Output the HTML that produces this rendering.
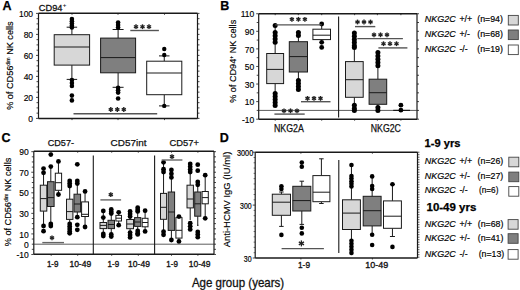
<!DOCTYPE html>
<html><head><meta charset="utf-8"><style>
html,body{margin:0;padding:0;background:#fff;}
body{width:520px;height:290px;overflow:hidden;font-family:"Liberation Sans",sans-serif;}
svg{display:block;}
</style></head><body>
<svg width="520" height="290" viewBox="0 0 520 290" font-family="Liberation Sans">
<rect width="520" height="290" fill="#fff"/>
<text x="2.5" y="9.6" font-size="12.5" text-anchor="start" font-weight="bold" font-style="normal" fill="#000" stroke="#000" stroke-width="0.25" >A</text>
<text x="38.8" y="10.6" font-size="9.9" text-anchor="start" font-weight="normal" font-style="normal" fill="#111" textLength="23.6" lengthAdjust="spacingAndGlyphs" stroke="#111" stroke-width="0.3" >CD94</text>
<text x="62.8" y="6.8" font-size="6.2" text-anchor="start" font-weight="normal" font-style="normal" fill="#111" stroke="#111" stroke-width="0.1" >+</text>
<line x1="36.0" y1="118.4" x2="38.5" y2="118.4" stroke="#1a1a1a" stroke-width="0.8"/>
<line x1="197.5" y1="118.4" x2="199.5" y2="118.4" stroke="#1a1a1a" stroke-width="0.8"/>
<line x1="36.5" y1="113.15" x2="38.5" y2="113.15" stroke="#1a1a1a" stroke-width="0.8"/>
<line x1="197.5" y1="113.15" x2="199.5" y2="113.15" stroke="#1a1a1a" stroke-width="0.8"/>
<line x1="36.5" y1="107.9" x2="38.5" y2="107.9" stroke="#1a1a1a" stroke-width="0.8"/>
<line x1="197.5" y1="107.9" x2="199.5" y2="107.9" stroke="#1a1a1a" stroke-width="0.8"/>
<line x1="36.5" y1="102.65" x2="38.5" y2="102.65" stroke="#1a1a1a" stroke-width="0.8"/>
<line x1="197.5" y1="102.65" x2="199.5" y2="102.65" stroke="#1a1a1a" stroke-width="0.8"/>
<line x1="36.0" y1="97.4" x2="38.5" y2="97.4" stroke="#1a1a1a" stroke-width="0.8"/>
<line x1="197.5" y1="97.4" x2="199.5" y2="97.4" stroke="#1a1a1a" stroke-width="0.8"/>
<line x1="36.5" y1="92.15" x2="38.5" y2="92.15" stroke="#1a1a1a" stroke-width="0.8"/>
<line x1="197.5" y1="92.15" x2="199.5" y2="92.15" stroke="#1a1a1a" stroke-width="0.8"/>
<line x1="36.5" y1="86.9" x2="38.5" y2="86.9" stroke="#1a1a1a" stroke-width="0.8"/>
<line x1="197.5" y1="86.9" x2="199.5" y2="86.9" stroke="#1a1a1a" stroke-width="0.8"/>
<line x1="36.5" y1="81.65" x2="38.5" y2="81.65" stroke="#1a1a1a" stroke-width="0.8"/>
<line x1="197.5" y1="81.65" x2="199.5" y2="81.65" stroke="#1a1a1a" stroke-width="0.8"/>
<line x1="36.0" y1="76.4" x2="38.5" y2="76.4" stroke="#1a1a1a" stroke-width="0.8"/>
<line x1="197.5" y1="76.4" x2="199.5" y2="76.4" stroke="#1a1a1a" stroke-width="0.8"/>
<line x1="36.5" y1="71.15" x2="38.5" y2="71.15" stroke="#1a1a1a" stroke-width="0.8"/>
<line x1="197.5" y1="71.15" x2="199.5" y2="71.15" stroke="#1a1a1a" stroke-width="0.8"/>
<line x1="36.5" y1="65.9" x2="38.5" y2="65.9" stroke="#1a1a1a" stroke-width="0.8"/>
<line x1="197.5" y1="65.9" x2="199.5" y2="65.9" stroke="#1a1a1a" stroke-width="0.8"/>
<line x1="36.5" y1="60.650000000000006" x2="38.5" y2="60.650000000000006" stroke="#1a1a1a" stroke-width="0.8"/>
<line x1="197.5" y1="60.650000000000006" x2="199.5" y2="60.650000000000006" stroke="#1a1a1a" stroke-width="0.8"/>
<line x1="36.0" y1="55.400000000000006" x2="38.5" y2="55.400000000000006" stroke="#1a1a1a" stroke-width="0.8"/>
<line x1="197.5" y1="55.400000000000006" x2="199.5" y2="55.400000000000006" stroke="#1a1a1a" stroke-width="0.8"/>
<line x1="36.5" y1="50.150000000000006" x2="38.5" y2="50.150000000000006" stroke="#1a1a1a" stroke-width="0.8"/>
<line x1="197.5" y1="50.150000000000006" x2="199.5" y2="50.150000000000006" stroke="#1a1a1a" stroke-width="0.8"/>
<line x1="36.5" y1="44.900000000000006" x2="38.5" y2="44.900000000000006" stroke="#1a1a1a" stroke-width="0.8"/>
<line x1="197.5" y1="44.900000000000006" x2="199.5" y2="44.900000000000006" stroke="#1a1a1a" stroke-width="0.8"/>
<line x1="36.5" y1="39.650000000000006" x2="38.5" y2="39.650000000000006" stroke="#1a1a1a" stroke-width="0.8"/>
<line x1="197.5" y1="39.650000000000006" x2="199.5" y2="39.650000000000006" stroke="#1a1a1a" stroke-width="0.8"/>
<line x1="36.0" y1="34.400000000000006" x2="38.5" y2="34.400000000000006" stroke="#1a1a1a" stroke-width="0.8"/>
<line x1="197.5" y1="34.400000000000006" x2="199.5" y2="34.400000000000006" stroke="#1a1a1a" stroke-width="0.8"/>
<line x1="36.5" y1="29.150000000000006" x2="38.5" y2="29.150000000000006" stroke="#1a1a1a" stroke-width="0.8"/>
<line x1="197.5" y1="29.150000000000006" x2="199.5" y2="29.150000000000006" stroke="#1a1a1a" stroke-width="0.8"/>
<line x1="36.5" y1="23.900000000000006" x2="38.5" y2="23.900000000000006" stroke="#1a1a1a" stroke-width="0.8"/>
<line x1="197.5" y1="23.900000000000006" x2="199.5" y2="23.900000000000006" stroke="#1a1a1a" stroke-width="0.8"/>
<line x1="36.5" y1="18.650000000000006" x2="38.5" y2="18.650000000000006" stroke="#1a1a1a" stroke-width="0.8"/>
<line x1="197.5" y1="18.650000000000006" x2="199.5" y2="18.650000000000006" stroke="#1a1a1a" stroke-width="0.8"/>
<line x1="36.0" y1="13.400000000000006" x2="38.5" y2="13.400000000000006" stroke="#1a1a1a" stroke-width="0.8"/>
<line x1="197.5" y1="13.400000000000006" x2="199.5" y2="13.400000000000006" stroke="#1a1a1a" stroke-width="0.8"/>
<text x="33.1" y="122.10000000000001" font-size="8.5" text-anchor="end" font-weight="normal" font-style="normal" fill="#000" stroke="#000" stroke-width="0.15" >0</text>
<text x="33.1" y="101.10000000000001" font-size="8.5" text-anchor="end" font-weight="normal" font-style="normal" fill="#000" stroke="#000" stroke-width="0.15" >20</text>
<text x="33.1" y="80.10000000000001" font-size="8.5" text-anchor="end" font-weight="normal" font-style="normal" fill="#000" stroke="#000" stroke-width="0.15" >40</text>
<text x="33.1" y="59.10000000000001" font-size="8.5" text-anchor="end" font-weight="normal" font-style="normal" fill="#000" stroke="#000" stroke-width="0.15" >60</text>
<text x="33.1" y="38.10000000000001" font-size="8.5" text-anchor="end" font-weight="normal" font-style="normal" fill="#000" stroke="#000" stroke-width="0.15" >80</text>
<text x="33.1" y="17.100000000000005" font-size="8.5" text-anchor="end" font-weight="normal" font-style="normal" fill="#000" stroke="#000" stroke-width="0.15" >100</text>
<line x1="72" y1="13.3" x2="72" y2="14.8" stroke="#1a1a1a" stroke-width="0.8"/>
<line x1="72" y1="118.6" x2="72" y2="120.1" stroke="#1a1a1a" stroke-width="0.8"/>
<line x1="118" y1="13.3" x2="118" y2="14.8" stroke="#1a1a1a" stroke-width="0.8"/>
<line x1="118" y1="118.6" x2="118" y2="120.1" stroke="#1a1a1a" stroke-width="0.8"/>
<line x1="164.5" y1="13.3" x2="164.5" y2="14.8" stroke="#1a1a1a" stroke-width="0.8"/>
<line x1="164.5" y1="118.6" x2="164.5" y2="120.1" stroke="#1a1a1a" stroke-width="0.8"/>
<line x1="38.5" y1="13.3" x2="197.5" y2="13.3" stroke="#1a1a1a" stroke-width="1.4"/>
<line x1="38.5" y1="13.3" x2="38.5" y2="118.6" stroke="#1a1a1a" stroke-width="1.2"/>
<line x1="197.5" y1="13.3" x2="197.5" y2="118.6" stroke="#1a1a1a" stroke-width="1.2"/>
<line x1="38.5" y1="118.6" x2="197.5" y2="118.6" stroke="#1a1a1a" stroke-width="1.5"/>
<text transform="translate(13.1,65.6) rotate(-90)" font-size="9.9" text-anchor="middle" fill="#000" stroke="#000" stroke-width="0.15" textLength="88.5" lengthAdjust="spacingAndGlyphs">% of CD56<tspan font-size="5.6" dy="-3.4">dim</tspan><tspan dy="3.4"> NK cells</tspan></text>
<line x1="71.9" y1="27.2" x2="71.9" y2="34.7" stroke="#1a1a1a" stroke-width="1"/>
<line x1="66.65" y1="27.2" x2="77.15" y2="27.2" stroke="#1a1a1a" stroke-width="1"/>
<line x1="71.9" y1="65.1" x2="71.9" y2="79.4" stroke="#1a1a1a" stroke-width="1"/>
<line x1="66.65" y1="79.4" x2="77.15" y2="79.4" stroke="#1a1a1a" stroke-width="1"/>
<rect x="54.2" y="34.7" width="35.39999999999999" height="30.39999999999999" fill="#d7d7d7" stroke="#1a1a1a" stroke-width="1"/>
<line x1="54.2" y1="47" x2="89.6" y2="47" stroke="#1a1a1a" stroke-width="1"/>
<circle cx="71.9" cy="19" r="2.3" fill="#000"/>
<circle cx="71.9" cy="21.3" r="2.3" fill="#000"/>
<circle cx="71.9" cy="23.6" r="2.3" fill="#000"/>
<circle cx="71.9" cy="25.8" r="2.3" fill="#000"/>
<circle cx="71.9" cy="27.5" r="2.3" fill="#000"/>
<circle cx="71.9" cy="80" r="2.3" fill="#000"/>
<circle cx="71.9" cy="83" r="2.3" fill="#000"/>
<circle cx="71.9" cy="86" r="2.3" fill="#000"/>
<circle cx="71.9" cy="95.6" r="2.3" fill="#000"/>
<circle cx="71.9" cy="100.4" r="2.3" fill="#000"/>
<line x1="118.1" y1="29.5" x2="118.1" y2="38.1" stroke="#1a1a1a" stroke-width="1"/>
<line x1="112.6" y1="29.5" x2="123.6" y2="29.5" stroke="#1a1a1a" stroke-width="1"/>
<line x1="118.1" y1="72.8" x2="118.1" y2="87.3" stroke="#1a1a1a" stroke-width="1"/>
<line x1="112.6" y1="87.3" x2="123.6" y2="87.3" stroke="#1a1a1a" stroke-width="1"/>
<rect x="100.6" y="38.1" width="35.0" height="34.699999999999996" fill="#7f7f7f" stroke="#1a1a1a" stroke-width="1"/>
<line x1="100.6" y1="57.6" x2="135.6" y2="57.6" stroke="#1a1a1a" stroke-width="1"/>
<circle cx="118.1" cy="22.6" r="2.3" fill="#000"/>
<circle cx="118.1" cy="25" r="2.3" fill="#000"/>
<circle cx="118.1" cy="27.6" r="2.3" fill="#000"/>
<circle cx="118.1" cy="87.8" r="2.3" fill="#000"/>
<circle cx="118.1" cy="90.2" r="2.3" fill="#000"/>
<circle cx="118.1" cy="92.6" r="2.3" fill="#000"/>
<circle cx="118.1" cy="98.5" r="2.3" fill="#000"/>
<line x1="164.25" y1="55.9" x2="164.25" y2="61.2" stroke="#1a1a1a" stroke-width="1"/>
<line x1="159.0" y1="55.9" x2="169.5" y2="55.9" stroke="#1a1a1a" stroke-width="1"/>
<line x1="164.25" y1="94.7" x2="164.25" y2="105.9" stroke="#1a1a1a" stroke-width="1"/>
<line x1="159.0" y1="105.9" x2="169.5" y2="105.9" stroke="#1a1a1a" stroke-width="1"/>
<rect x="146.7" y="61.2" width="35.10000000000002" height="33.5" fill="#ffffff" stroke="#1a1a1a" stroke-width="1"/>
<line x1="146.7" y1="73" x2="181.8" y2="73" stroke="#1a1a1a" stroke-width="1"/>
<circle cx="164.25" cy="49" r="2.2" fill="#000"/>
<circle cx="164.25" cy="55" r="2.2" fill="#000"/>
<circle cx="164.25" cy="105.9" r="2.2" fill="#000"/>
<line x1="130.3" y1="30.5" x2="158.9" y2="30.5" stroke="#555" stroke-width="1.4"/>
<line x1="136.00" y1="24.30" x2="136.00" y2="29.10" stroke="#222" stroke-width="1.4"/>
<line x1="133.92" y1="25.50" x2="138.08" y2="27.90" stroke="#222" stroke-width="1.4"/>
<line x1="138.08" y1="25.50" x2="133.92" y2="27.90" stroke="#222" stroke-width="1.4"/>
<line x1="142.50" y1="24.30" x2="142.50" y2="29.10" stroke="#222" stroke-width="1.4"/>
<line x1="140.42" y1="25.50" x2="144.58" y2="27.90" stroke="#222" stroke-width="1.4"/>
<line x1="144.58" y1="25.50" x2="140.42" y2="27.90" stroke="#222" stroke-width="1.4"/>
<line x1="149.00" y1="24.30" x2="149.00" y2="29.10" stroke="#222" stroke-width="1.4"/>
<line x1="146.92" y1="25.50" x2="151.08" y2="27.90" stroke="#222" stroke-width="1.4"/>
<line x1="151.08" y1="25.50" x2="146.92" y2="27.90" stroke="#222" stroke-width="1.4"/>
<line x1="73.5" y1="113.8" x2="157.2" y2="113.8" stroke="#555" stroke-width="1.4"/>
<line x1="110.80" y1="107.10" x2="110.80" y2="111.90" stroke="#222" stroke-width="1.4"/>
<line x1="108.72" y1="108.30" x2="112.88" y2="110.70" stroke="#222" stroke-width="1.4"/>
<line x1="112.88" y1="108.30" x2="108.72" y2="110.70" stroke="#222" stroke-width="1.4"/>
<line x1="117.30" y1="107.10" x2="117.30" y2="111.90" stroke="#222" stroke-width="1.4"/>
<line x1="115.22" y1="108.30" x2="119.38" y2="110.70" stroke="#222" stroke-width="1.4"/>
<line x1="119.38" y1="108.30" x2="115.22" y2="110.70" stroke="#222" stroke-width="1.4"/>
<line x1="123.80" y1="107.10" x2="123.80" y2="111.90" stroke="#222" stroke-width="1.4"/>
<line x1="121.72" y1="108.30" x2="125.88" y2="110.70" stroke="#222" stroke-width="1.4"/>
<line x1="125.88" y1="108.30" x2="121.72" y2="110.70" stroke="#222" stroke-width="1.4"/>
<text x="220.2" y="9.6" font-size="12.5" text-anchor="start" font-weight="bold" font-style="normal" fill="#000" stroke="#000" stroke-width="0.25" >B</text>
<line x1="256.2" y1="119.2" x2="258.7" y2="119.2" stroke="#1a1a1a" stroke-width="0.8"/>
<line x1="417.0" y1="119.2" x2="419.0" y2="119.2" stroke="#1a1a1a" stroke-width="0.8"/>
<line x1="256.7" y1="110.41" x2="258.7" y2="110.41" stroke="#1a1a1a" stroke-width="0.8"/>
<line x1="417.0" y1="110.41" x2="419.0" y2="110.41" stroke="#1a1a1a" stroke-width="0.8"/>
<line x1="256.2" y1="101.62" x2="258.7" y2="101.62" stroke="#1a1a1a" stroke-width="0.8"/>
<line x1="417.0" y1="101.62" x2="419.0" y2="101.62" stroke="#1a1a1a" stroke-width="0.8"/>
<line x1="256.7" y1="92.83" x2="258.7" y2="92.83" stroke="#1a1a1a" stroke-width="0.8"/>
<line x1="417.0" y1="92.83" x2="419.0" y2="92.83" stroke="#1a1a1a" stroke-width="0.8"/>
<line x1="256.2" y1="84.04" x2="258.7" y2="84.04" stroke="#1a1a1a" stroke-width="0.8"/>
<line x1="417.0" y1="84.04" x2="419.0" y2="84.04" stroke="#1a1a1a" stroke-width="0.8"/>
<line x1="256.7" y1="75.25" x2="258.7" y2="75.25" stroke="#1a1a1a" stroke-width="0.8"/>
<line x1="417.0" y1="75.25" x2="419.0" y2="75.25" stroke="#1a1a1a" stroke-width="0.8"/>
<line x1="256.2" y1="66.46000000000001" x2="258.7" y2="66.46000000000001" stroke="#1a1a1a" stroke-width="0.8"/>
<line x1="417.0" y1="66.46000000000001" x2="419.0" y2="66.46000000000001" stroke="#1a1a1a" stroke-width="0.8"/>
<line x1="256.7" y1="57.67" x2="258.7" y2="57.67" stroke="#1a1a1a" stroke-width="0.8"/>
<line x1="417.0" y1="57.67" x2="419.0" y2="57.67" stroke="#1a1a1a" stroke-width="0.8"/>
<line x1="256.2" y1="48.88000000000001" x2="258.7" y2="48.88000000000001" stroke="#1a1a1a" stroke-width="0.8"/>
<line x1="417.0" y1="48.88000000000001" x2="419.0" y2="48.88000000000001" stroke="#1a1a1a" stroke-width="0.8"/>
<line x1="256.7" y1="40.09" x2="258.7" y2="40.09" stroke="#1a1a1a" stroke-width="0.8"/>
<line x1="417.0" y1="40.09" x2="419.0" y2="40.09" stroke="#1a1a1a" stroke-width="0.8"/>
<line x1="256.2" y1="31.299999999999997" x2="258.7" y2="31.299999999999997" stroke="#1a1a1a" stroke-width="0.8"/>
<line x1="417.0" y1="31.299999999999997" x2="419.0" y2="31.299999999999997" stroke="#1a1a1a" stroke-width="0.8"/>
<line x1="256.7" y1="22.510000000000005" x2="258.7" y2="22.510000000000005" stroke="#1a1a1a" stroke-width="0.8"/>
<line x1="417.0" y1="22.510000000000005" x2="419.0" y2="22.510000000000005" stroke="#1a1a1a" stroke-width="0.8"/>
<line x1="256.2" y1="13.719999999999999" x2="258.7" y2="13.719999999999999" stroke="#1a1a1a" stroke-width="0.8"/>
<line x1="417.0" y1="13.719999999999999" x2="419.0" y2="13.719999999999999" stroke="#1a1a1a" stroke-width="0.8"/>
<text x="254.3" y="122.9" font-size="8.5" text-anchor="end" font-weight="normal" font-style="normal" fill="#000" stroke="#000" stroke-width="0.15" >-10</text>
<text x="254.3" y="105.32000000000001" font-size="8.5" text-anchor="end" font-weight="normal" font-style="normal" fill="#000" stroke="#000" stroke-width="0.15" >10</text>
<text x="254.3" y="87.74000000000001" font-size="8.5" text-anchor="end" font-weight="normal" font-style="normal" fill="#000" stroke="#000" stroke-width="0.15" >30</text>
<text x="254.3" y="70.16000000000001" font-size="8.5" text-anchor="end" font-weight="normal" font-style="normal" fill="#000" stroke="#000" stroke-width="0.15" >50</text>
<text x="254.3" y="52.58000000000001" font-size="8.5" text-anchor="end" font-weight="normal" font-style="normal" fill="#000" stroke="#000" stroke-width="0.15" >70</text>
<text x="254.3" y="35.0" font-size="8.5" text-anchor="end" font-weight="normal" font-style="normal" fill="#000" stroke="#000" stroke-width="0.15" >90</text>
<text x="254.3" y="17.419999999999998" font-size="8.5" text-anchor="end" font-weight="normal" font-style="normal" fill="#000" stroke="#000" stroke-width="0.15" >110</text>
<line x1="258.7" y1="13.7" x2="417.0" y2="13.7" stroke="#1a1a1a" stroke-width="1.4"/>
<line x1="258.7" y1="13.7" x2="258.7" y2="119.2" stroke="#1a1a1a" stroke-width="1.2"/>
<line x1="417.0" y1="13.7" x2="417.0" y2="119.2" stroke="#1a1a1a" stroke-width="1.2"/>
<line x1="258.7" y1="119.2" x2="417.0" y2="119.2" stroke="#1a1a1a" stroke-width="1.5"/>
<line x1="258.7" y1="110.41" x2="417.0" y2="110.41" stroke="#333" stroke-width="0.8"/>
<line x1="338.6" y1="16.5" x2="338.6" y2="117.5" stroke="#1a1a1a" stroke-width="1.1"/>
<line x1="275.2" y1="119.2" x2="275.2" y2="120.7" stroke="#1a1a1a" stroke-width="0.8"/>
<line x1="275.2" y1="13.7" x2="275.2" y2="15.2" stroke="#1a1a1a" stroke-width="0.8"/>
<line x1="298.3" y1="119.2" x2="298.3" y2="120.7" stroke="#1a1a1a" stroke-width="0.8"/>
<line x1="298.3" y1="13.7" x2="298.3" y2="15.2" stroke="#1a1a1a" stroke-width="0.8"/>
<line x1="321.7" y1="119.2" x2="321.7" y2="120.7" stroke="#1a1a1a" stroke-width="0.8"/>
<line x1="321.7" y1="13.7" x2="321.7" y2="15.2" stroke="#1a1a1a" stroke-width="0.8"/>
<line x1="354.6" y1="119.2" x2="354.6" y2="120.7" stroke="#1a1a1a" stroke-width="0.8"/>
<line x1="354.6" y1="13.7" x2="354.6" y2="15.2" stroke="#1a1a1a" stroke-width="0.8"/>
<line x1="377.4" y1="119.2" x2="377.4" y2="120.7" stroke="#1a1a1a" stroke-width="0.8"/>
<line x1="377.4" y1="13.7" x2="377.4" y2="15.2" stroke="#1a1a1a" stroke-width="0.8"/>
<line x1="400.9" y1="119.2" x2="400.9" y2="120.7" stroke="#1a1a1a" stroke-width="0.8"/>
<line x1="400.9" y1="13.7" x2="400.9" y2="15.2" stroke="#1a1a1a" stroke-width="0.8"/>
<text transform="translate(236.2,61.3) rotate(-90)" font-size="9.9" text-anchor="middle" fill="#000" stroke="#000" stroke-width="0.15" textLength="83" lengthAdjust="spacingAndGlyphs">% of CD94<tspan font-size="5.6" dy="-3.4">+</tspan><tspan dy="3.4"> NK cells</tspan></text>
<text x="273.9" y="131.7" font-size="10.2" text-anchor="start" font-weight="normal" font-style="normal" fill="#111" textLength="29.9" lengthAdjust="spacingAndGlyphs" stroke="#111" stroke-width="0.25" >NKG2A</text>
<text x="370.8" y="131.7" font-size="10.2" text-anchor="start" font-weight="normal" font-style="normal" fill="#111" textLength="30.1" lengthAdjust="spacingAndGlyphs" stroke="#111" stroke-width="0.25" >NKG2C</text>
<line x1="275.15" y1="25.5" x2="275.15" y2="53.5" stroke="#1a1a1a" stroke-width="1"/>
<line x1="275.15" y1="83.6" x2="275.15" y2="93.5" stroke="#1a1a1a" stroke-width="1"/>
<rect x="266.7" y="53.5" width="16.900000000000034" height="30.099999999999994" fill="#d7d7d7" stroke="#1a1a1a" stroke-width="1"/>
<line x1="266.7" y1="69.4" x2="283.6" y2="69.4" stroke="#1a1a1a" stroke-width="1"/>
<circle cx="275.15" cy="25.5" r="2.5" fill="#000"/>
<circle cx="275.15" cy="32.6" r="2.5" fill="#000"/>
<circle cx="275.15" cy="35.8" r="2.5" fill="#000"/>
<circle cx="275.15" cy="39" r="2.5" fill="#000"/>
<circle cx="275.15" cy="42.2" r="2.5" fill="#000"/>
<circle cx="275.15" cy="93.6" r="2.5" fill="#000"/>
<circle cx="275.15" cy="96.6" r="2.5" fill="#000"/>
<circle cx="275.15" cy="99.6" r="2.5" fill="#000"/>
<circle cx="275.15" cy="102.6" r="2.5" fill="#000"/>
<circle cx="275.15" cy="105.6" r="2.5" fill="#000"/>
<line x1="298.4" y1="32.6" x2="298.4" y2="41.7" stroke="#1a1a1a" stroke-width="1"/>
<line x1="298.4" y1="72" x2="298.4" y2="80.6" stroke="#1a1a1a" stroke-width="1"/>
<rect x="289.3" y="41.7" width="18.19999999999999" height="30.299999999999997" fill="#7f7f7f" stroke="#1a1a1a" stroke-width="1"/>
<line x1="289.3" y1="56.6" x2="307.5" y2="56.6" stroke="#1a1a1a" stroke-width="1"/>
<circle cx="298.4" cy="32.6" r="2.5" fill="#000"/>
<circle cx="298.4" cy="35.4" r="2.5" fill="#000"/>
<circle cx="298.4" cy="80.6" r="2.5" fill="#000"/>
<circle cx="298.4" cy="83.6" r="2.5" fill="#000"/>
<circle cx="298.4" cy="86.6" r="2.5" fill="#000"/>
<circle cx="298.4" cy="89.6" r="2.5" fill="#000"/>
<line x1="321.7" y1="24" x2="321.7" y2="29.2" stroke="#1a1a1a" stroke-width="1"/>
<line x1="321.7" y1="39.6" x2="321.7" y2="42" stroke="#1a1a1a" stroke-width="1"/>
<rect x="312.9" y="29.2" width="17.600000000000023" height="10.400000000000002" fill="#ffffff" stroke="#1a1a1a" stroke-width="1"/>
<line x1="312.9" y1="35.2" x2="330.5" y2="35.2" stroke="#1a1a1a" stroke-width="1"/>
<circle cx="321.7" cy="24" r="2.4" fill="#000"/>
<circle cx="321.7" cy="42.3" r="2.4" fill="#000"/>
<circle cx="321.7" cy="47.4" r="2.4" fill="#000"/>
<line x1="354.35" y1="33" x2="354.35" y2="61.6" stroke="#1a1a1a" stroke-width="1"/>
<line x1="354.35" y1="97.3" x2="354.35" y2="105" stroke="#1a1a1a" stroke-width="1"/>
<rect x="345.5" y="61.6" width="17.69999999999999" height="35.699999999999996" fill="#d7d7d7" stroke="#1a1a1a" stroke-width="1"/>
<line x1="345.5" y1="79.7" x2="363.2" y2="79.7" stroke="#1a1a1a" stroke-width="1"/>
<circle cx="354.35" cy="33" r="2.5" fill="#000"/>
<circle cx="354.35" cy="36.2" r="2.5" fill="#000"/>
<circle cx="354.35" cy="39.4" r="2.5" fill="#000"/>
<circle cx="354.35" cy="42.6" r="2.5" fill="#000"/>
<circle cx="354.35" cy="45.8" r="2.5" fill="#000"/>
<circle cx="354.35" cy="47.6" r="2.5" fill="#000"/>
<circle cx="354.35" cy="105.2" r="2.5" fill="#000"/>
<circle cx="354.35" cy="108.4" r="2.5" fill="#000"/>
<circle cx="354.35" cy="110.6" r="2.5" fill="#000"/>
<line x1="377.9" y1="52.6" x2="377.9" y2="79.2" stroke="#1a1a1a" stroke-width="1"/>
<line x1="377.9" y1="104.3" x2="377.9" y2="107.5" stroke="#1a1a1a" stroke-width="1"/>
<rect x="369.1" y="79.2" width="17.599999999999966" height="25.099999999999994" fill="#7f7f7f" stroke="#1a1a1a" stroke-width="1"/>
<line x1="369.1" y1="92.7" x2="386.7" y2="92.7" stroke="#1a1a1a" stroke-width="1"/>
<circle cx="377.9" cy="52.6" r="2.5" fill="#000"/>
<circle cx="377.9" cy="55.9" r="2.5" fill="#000"/>
<circle cx="377.9" cy="59.2" r="2.5" fill="#000"/>
<circle cx="377.9" cy="62.5" r="2.5" fill="#000"/>
<circle cx="377.9" cy="65.8" r="2.5" fill="#000"/>
<circle cx="377.9" cy="107.6" r="2.5" fill="#000"/>
<circle cx="377.9" cy="110.4" r="2.5" fill="#000"/>
<line x1="393.2" y1="110.41" x2="410" y2="110.41" stroke="#1a1a1a" stroke-width="1.2"/>
<circle cx="400.9" cy="105.2" r="2.4" fill="#000"/>
<circle cx="400.9" cy="110.2" r="2.4" fill="#000"/>
<line x1="275.3" y1="24.9" x2="321.6" y2="24.9" stroke="#555" stroke-width="1.4"/>
<line x1="291.90" y1="16.90" x2="291.90" y2="21.70" stroke="#222" stroke-width="1.4"/>
<line x1="289.82" y1="18.10" x2="293.98" y2="20.50" stroke="#222" stroke-width="1.4"/>
<line x1="293.98" y1="18.10" x2="289.82" y2="20.50" stroke="#222" stroke-width="1.4"/>
<line x1="298.40" y1="16.90" x2="298.40" y2="21.70" stroke="#222" stroke-width="1.4"/>
<line x1="296.32" y1="18.10" x2="300.48" y2="20.50" stroke="#222" stroke-width="1.4"/>
<line x1="300.48" y1="18.10" x2="296.32" y2="20.50" stroke="#222" stroke-width="1.4"/>
<line x1="304.90" y1="16.90" x2="304.90" y2="21.70" stroke="#222" stroke-width="1.4"/>
<line x1="302.82" y1="18.10" x2="306.98" y2="20.50" stroke="#222" stroke-width="1.4"/>
<line x1="306.98" y1="18.10" x2="302.82" y2="20.50" stroke="#222" stroke-width="1.4"/>
<line x1="274.4" y1="114.1" x2="304.7" y2="114.1" stroke="#555" stroke-width="1.4"/>
<line x1="284.00" y1="108.40" x2="284.00" y2="113.20" stroke="#222" stroke-width="1.4"/>
<line x1="281.92" y1="109.60" x2="286.08" y2="112.00" stroke="#222" stroke-width="1.4"/>
<line x1="286.08" y1="109.60" x2="281.92" y2="112.00" stroke="#222" stroke-width="1.4"/>
<line x1="290.50" y1="108.40" x2="290.50" y2="113.20" stroke="#222" stroke-width="1.4"/>
<line x1="288.42" y1="109.60" x2="292.58" y2="112.00" stroke="#222" stroke-width="1.4"/>
<line x1="292.58" y1="109.60" x2="288.42" y2="112.00" stroke="#222" stroke-width="1.4"/>
<line x1="297.00" y1="108.40" x2="297.00" y2="113.20" stroke="#222" stroke-width="1.4"/>
<line x1="294.92" y1="109.60" x2="299.08" y2="112.00" stroke="#222" stroke-width="1.4"/>
<line x1="299.08" y1="109.60" x2="294.92" y2="112.00" stroke="#222" stroke-width="1.4"/>
<line x1="301" y1="101.7" x2="330.5" y2="101.7" stroke="#555" stroke-width="1.4"/>
<line x1="307.50" y1="96.00" x2="307.50" y2="100.80" stroke="#222" stroke-width="1.4"/>
<line x1="305.42" y1="97.20" x2="309.58" y2="99.60" stroke="#222" stroke-width="1.4"/>
<line x1="309.58" y1="97.20" x2="305.42" y2="99.60" stroke="#222" stroke-width="1.4"/>
<line x1="314.00" y1="96.00" x2="314.00" y2="100.80" stroke="#222" stroke-width="1.4"/>
<line x1="311.92" y1="97.20" x2="316.08" y2="99.60" stroke="#222" stroke-width="1.4"/>
<line x1="316.08" y1="97.20" x2="311.92" y2="99.60" stroke="#222" stroke-width="1.4"/>
<line x1="320.50" y1="96.00" x2="320.50" y2="100.80" stroke="#222" stroke-width="1.4"/>
<line x1="318.42" y1="97.20" x2="322.58" y2="99.60" stroke="#222" stroke-width="1.4"/>
<line x1="322.58" y1="97.20" x2="318.42" y2="99.60" stroke="#222" stroke-width="1.4"/>
<line x1="355" y1="26.6" x2="375.3" y2="26.6" stroke="#555" stroke-width="1.4"/>
<line x1="357.50" y1="19.60" x2="357.50" y2="24.40" stroke="#222" stroke-width="1.4"/>
<line x1="355.42" y1="20.80" x2="359.58" y2="23.20" stroke="#222" stroke-width="1.4"/>
<line x1="359.58" y1="20.80" x2="355.42" y2="23.20" stroke="#222" stroke-width="1.4"/>
<line x1="364.00" y1="19.60" x2="364.00" y2="24.40" stroke="#222" stroke-width="1.4"/>
<line x1="361.92" y1="20.80" x2="366.08" y2="23.20" stroke="#222" stroke-width="1.4"/>
<line x1="366.08" y1="20.80" x2="361.92" y2="23.20" stroke="#222" stroke-width="1.4"/>
<line x1="370.50" y1="19.60" x2="370.50" y2="24.40" stroke="#222" stroke-width="1.4"/>
<line x1="368.42" y1="20.80" x2="372.58" y2="23.20" stroke="#222" stroke-width="1.4"/>
<line x1="372.58" y1="20.80" x2="368.42" y2="23.20" stroke="#222" stroke-width="1.4"/>
<line x1="357.3" y1="38.6" x2="402.9" y2="38.6" stroke="#555" stroke-width="1.4"/>
<line x1="374.00" y1="32.40" x2="374.00" y2="37.20" stroke="#222" stroke-width="1.4"/>
<line x1="371.92" y1="33.60" x2="376.08" y2="36.00" stroke="#222" stroke-width="1.4"/>
<line x1="376.08" y1="33.60" x2="371.92" y2="36.00" stroke="#222" stroke-width="1.4"/>
<line x1="380.50" y1="32.40" x2="380.50" y2="37.20" stroke="#222" stroke-width="1.4"/>
<line x1="378.42" y1="33.60" x2="382.58" y2="36.00" stroke="#222" stroke-width="1.4"/>
<line x1="382.58" y1="33.60" x2="378.42" y2="36.00" stroke="#222" stroke-width="1.4"/>
<line x1="387.00" y1="32.40" x2="387.00" y2="37.20" stroke="#222" stroke-width="1.4"/>
<line x1="384.92" y1="33.60" x2="389.08" y2="36.00" stroke="#222" stroke-width="1.4"/>
<line x1="389.08" y1="33.60" x2="384.92" y2="36.00" stroke="#222" stroke-width="1.4"/>
<line x1="378.4" y1="47.9" x2="407.4" y2="47.9" stroke="#555" stroke-width="1.4"/>
<line x1="383.50" y1="41.30" x2="383.50" y2="46.10" stroke="#222" stroke-width="1.4"/>
<line x1="381.42" y1="42.50" x2="385.58" y2="44.90" stroke="#222" stroke-width="1.4"/>
<line x1="385.58" y1="42.50" x2="381.42" y2="44.90" stroke="#222" stroke-width="1.4"/>
<line x1="390.00" y1="41.30" x2="390.00" y2="46.10" stroke="#222" stroke-width="1.4"/>
<line x1="387.92" y1="42.50" x2="392.08" y2="44.90" stroke="#222" stroke-width="1.4"/>
<line x1="392.08" y1="42.50" x2="387.92" y2="44.90" stroke="#222" stroke-width="1.4"/>
<line x1="396.50" y1="41.30" x2="396.50" y2="46.10" stroke="#222" stroke-width="1.4"/>
<line x1="394.42" y1="42.50" x2="398.58" y2="44.90" stroke="#222" stroke-width="1.4"/>
<line x1="398.58" y1="42.50" x2="394.42" y2="44.90" stroke="#222" stroke-width="1.4"/>
<rect x="508.3" y="15.400000000000002" width="10" height="9.6" fill="#d7d7d7" stroke="#444" stroke-width="0.9"/>
<text x="424.8" y="22.0" font-size="8.8" text-anchor="start" font-weight="normal" font-style="italic" fill="#000" textLength="30.8" lengthAdjust="spacingAndGlyphs" stroke="#000" stroke-width="0.18" >NKG2C</text>
<text x="459.4" y="22.0" font-size="8.8" text-anchor="start" font-weight="normal" font-style="normal" fill="#000" stroke="#000" stroke-width="0.18" >+/+</text>
<text x="477.3" y="22.0" font-size="8.8" text-anchor="start" font-weight="normal" font-style="normal" fill="#000" textLength="25.6" lengthAdjust="spacingAndGlyphs" stroke="#000" stroke-width="0.18" >(n=94)</text>
<rect x="508.3" y="30.000000000000004" width="10" height="9.6" fill="#7f7f7f" stroke="#444" stroke-width="0.9"/>
<text x="424.8" y="36.6" font-size="8.8" text-anchor="start" font-weight="normal" font-style="italic" fill="#000" textLength="30.8" lengthAdjust="spacingAndGlyphs" stroke="#000" stroke-width="0.18" >NKG2C</text>
<text x="459.4" y="36.6" font-size="8.8" text-anchor="start" font-weight="normal" font-style="normal" fill="#000" stroke="#000" stroke-width="0.18" >+/-</text>
<text x="477.3" y="36.6" font-size="8.8" text-anchor="start" font-weight="normal" font-style="normal" fill="#000" textLength="25.6" lengthAdjust="spacingAndGlyphs" stroke="#000" stroke-width="0.18" >(n=68)</text>
<rect x="508.3" y="45.0" width="10" height="9.6" fill="#ffffff" stroke="#444" stroke-width="0.9"/>
<text x="424.8" y="51.6" font-size="8.8" text-anchor="start" font-weight="normal" font-style="italic" fill="#000" textLength="30.8" lengthAdjust="spacingAndGlyphs" stroke="#000" stroke-width="0.18" >NKG2C</text>
<text x="459.4" y="51.6" font-size="8.8" text-anchor="start" font-weight="normal" font-style="normal" fill="#000" stroke="#000" stroke-width="0.18" >-/-</text>
<text x="477.3" y="51.6" font-size="8.8" text-anchor="start" font-weight="normal" font-style="normal" fill="#000" textLength="25.6" lengthAdjust="spacingAndGlyphs" stroke="#000" stroke-width="0.18" >(n=19)</text>
<text x="1.5" y="141.8" font-size="12.5" text-anchor="start" font-weight="bold" font-style="normal" fill="#000" stroke="#000" stroke-width="0.25" >C</text>
<text x="47.7" y="145.8" font-size="9.8" text-anchor="start" font-weight="normal" font-style="normal" fill="#111" textLength="26.3" lengthAdjust="spacingAndGlyphs" stroke="#111" stroke-width="0.25" >CD57-</text>
<text x="110.6" y="145.8" font-size="9.8" text-anchor="start" font-weight="normal" font-style="normal" fill="#111" textLength="35.9" lengthAdjust="spacingAndGlyphs" stroke="#111" stroke-width="0.25" >CD57int</text>
<text x="169.6" y="145.8" font-size="9.8" text-anchor="start" font-weight="normal" font-style="normal" fill="#111" textLength="29.4" lengthAdjust="spacingAndGlyphs" stroke="#111" stroke-width="0.25" >CD57+</text>
<line x1="31.299999999999997" y1="254.48" x2="33.8" y2="254.48" stroke="#1a1a1a" stroke-width="0.8"/>
<line x1="214.0" y1="254.48" x2="216.0" y2="254.48" stroke="#1a1a1a" stroke-width="0.8"/>
<line x1="31.799999999999997" y1="249.33999999999997" x2="33.8" y2="249.33999999999997" stroke="#1a1a1a" stroke-width="0.8"/>
<line x1="214.0" y1="249.33999999999997" x2="216.0" y2="249.33999999999997" stroke="#1a1a1a" stroke-width="0.8"/>
<line x1="31.799999999999997" y1="244.2" x2="33.8" y2="244.2" stroke="#1a1a1a" stroke-width="0.8"/>
<line x1="214.0" y1="244.2" x2="216.0" y2="244.2" stroke="#1a1a1a" stroke-width="0.8"/>
<line x1="31.799999999999997" y1="239.06" x2="33.8" y2="239.06" stroke="#1a1a1a" stroke-width="0.8"/>
<line x1="214.0" y1="239.06" x2="216.0" y2="239.06" stroke="#1a1a1a" stroke-width="0.8"/>
<line x1="31.299999999999997" y1="233.92" x2="33.8" y2="233.92" stroke="#1a1a1a" stroke-width="0.8"/>
<line x1="214.0" y1="233.92" x2="216.0" y2="233.92" stroke="#1a1a1a" stroke-width="0.8"/>
<line x1="31.799999999999997" y1="228.78" x2="33.8" y2="228.78" stroke="#1a1a1a" stroke-width="0.8"/>
<line x1="214.0" y1="228.78" x2="216.0" y2="228.78" stroke="#1a1a1a" stroke-width="0.8"/>
<line x1="31.799999999999997" y1="223.64" x2="33.8" y2="223.64" stroke="#1a1a1a" stroke-width="0.8"/>
<line x1="214.0" y1="223.64" x2="216.0" y2="223.64" stroke="#1a1a1a" stroke-width="0.8"/>
<line x1="31.799999999999997" y1="218.5" x2="33.8" y2="218.5" stroke="#1a1a1a" stroke-width="0.8"/>
<line x1="214.0" y1="218.5" x2="216.0" y2="218.5" stroke="#1a1a1a" stroke-width="0.8"/>
<line x1="31.299999999999997" y1="213.35999999999999" x2="33.8" y2="213.35999999999999" stroke="#1a1a1a" stroke-width="0.8"/>
<line x1="214.0" y1="213.35999999999999" x2="216.0" y2="213.35999999999999" stroke="#1a1a1a" stroke-width="0.8"/>
<line x1="31.799999999999997" y1="208.21999999999997" x2="33.8" y2="208.21999999999997" stroke="#1a1a1a" stroke-width="0.8"/>
<line x1="214.0" y1="208.21999999999997" x2="216.0" y2="208.21999999999997" stroke="#1a1a1a" stroke-width="0.8"/>
<line x1="31.799999999999997" y1="203.07999999999998" x2="33.8" y2="203.07999999999998" stroke="#1a1a1a" stroke-width="0.8"/>
<line x1="214.0" y1="203.07999999999998" x2="216.0" y2="203.07999999999998" stroke="#1a1a1a" stroke-width="0.8"/>
<line x1="31.799999999999997" y1="197.94" x2="33.8" y2="197.94" stroke="#1a1a1a" stroke-width="0.8"/>
<line x1="214.0" y1="197.94" x2="216.0" y2="197.94" stroke="#1a1a1a" stroke-width="0.8"/>
<line x1="31.299999999999997" y1="192.79999999999998" x2="33.8" y2="192.79999999999998" stroke="#1a1a1a" stroke-width="0.8"/>
<line x1="214.0" y1="192.79999999999998" x2="216.0" y2="192.79999999999998" stroke="#1a1a1a" stroke-width="0.8"/>
<line x1="31.799999999999997" y1="187.66" x2="33.8" y2="187.66" stroke="#1a1a1a" stroke-width="0.8"/>
<line x1="214.0" y1="187.66" x2="216.0" y2="187.66" stroke="#1a1a1a" stroke-width="0.8"/>
<line x1="31.799999999999997" y1="182.51999999999998" x2="33.8" y2="182.51999999999998" stroke="#1a1a1a" stroke-width="0.8"/>
<line x1="214.0" y1="182.51999999999998" x2="216.0" y2="182.51999999999998" stroke="#1a1a1a" stroke-width="0.8"/>
<line x1="31.799999999999997" y1="177.38" x2="33.8" y2="177.38" stroke="#1a1a1a" stroke-width="0.8"/>
<line x1="214.0" y1="177.38" x2="216.0" y2="177.38" stroke="#1a1a1a" stroke-width="0.8"/>
<line x1="31.299999999999997" y1="172.23999999999998" x2="33.8" y2="172.23999999999998" stroke="#1a1a1a" stroke-width="0.8"/>
<line x1="214.0" y1="172.23999999999998" x2="216.0" y2="172.23999999999998" stroke="#1a1a1a" stroke-width="0.8"/>
<line x1="31.799999999999997" y1="167.09999999999997" x2="33.8" y2="167.09999999999997" stroke="#1a1a1a" stroke-width="0.8"/>
<line x1="214.0" y1="167.09999999999997" x2="216.0" y2="167.09999999999997" stroke="#1a1a1a" stroke-width="0.8"/>
<line x1="31.799999999999997" y1="161.95999999999998" x2="33.8" y2="161.95999999999998" stroke="#1a1a1a" stroke-width="0.8"/>
<line x1="214.0" y1="161.95999999999998" x2="216.0" y2="161.95999999999998" stroke="#1a1a1a" stroke-width="0.8"/>
<line x1="31.799999999999997" y1="156.82" x2="33.8" y2="156.82" stroke="#1a1a1a" stroke-width="0.8"/>
<line x1="214.0" y1="156.82" x2="216.0" y2="156.82" stroke="#1a1a1a" stroke-width="0.8"/>
<line x1="31.299999999999997" y1="151.68" x2="33.8" y2="151.68" stroke="#1a1a1a" stroke-width="0.8"/>
<line x1="214.0" y1="151.68" x2="216.0" y2="151.68" stroke="#1a1a1a" stroke-width="0.8"/>
<text x="28.8" y="155.28" font-size="8.5" text-anchor="end" font-weight="normal" font-style="normal" fill="#000" stroke="#000" stroke-width="0.15" >90</text>
<text x="28.8" y="175.83999999999997" font-size="8.5" text-anchor="end" font-weight="normal" font-style="normal" fill="#000" stroke="#000" stroke-width="0.15" >70</text>
<text x="28.8" y="196.39999999999998" font-size="8.5" text-anchor="end" font-weight="normal" font-style="normal" fill="#000" stroke="#000" stroke-width="0.15" >50</text>
<text x="28.8" y="216.95999999999998" font-size="8.5" text-anchor="end" font-weight="normal" font-style="normal" fill="#000" stroke="#000" stroke-width="0.15" >30</text>
<text x="28.8" y="237.51999999999998" font-size="8.5" text-anchor="end" font-weight="normal" font-style="normal" fill="#000" stroke="#000" stroke-width="0.15" >10</text>
<text x="28.8" y="247.79999999999998" font-size="8.5" text-anchor="end" font-weight="normal" font-style="normal" fill="#000" stroke="#000" stroke-width="0.15" >0</text>
<text x="28.8" y="258.08" font-size="8.5" text-anchor="end" font-weight="normal" font-style="normal" fill="#000" stroke="#000" stroke-width="0.15" >-10</text>
<line x1="33.8" y1="151.2" x2="214.0" y2="151.2" stroke="#1a1a1a" stroke-width="1.4"/>
<line x1="33.8" y1="151.2" x2="33.8" y2="254.3" stroke="#1a1a1a" stroke-width="1.2"/>
<line x1="214.0" y1="151.2" x2="214.0" y2="254.3" stroke="#1a1a1a" stroke-width="1.2"/>
<line x1="33.8" y1="254.3" x2="214.0" y2="254.3" stroke="#1a1a1a" stroke-width="1.5"/>
<line x1="33.8" y1="244.2" x2="214.0" y2="244.2" stroke="#333" stroke-width="0.8"/>
<line x1="93.3" y1="155.5" x2="93.3" y2="254.3" stroke="#1a1a1a" stroke-width="1.1"/>
<line x1="154.6" y1="155.5" x2="154.6" y2="254.3" stroke="#1a1a1a" stroke-width="1.1"/>
<line x1="51.2" y1="254.3" x2="51.2" y2="255.8" stroke="#1a1a1a" stroke-width="0.8"/>
<line x1="51.2" y1="151.2" x2="51.2" y2="152.7" stroke="#1a1a1a" stroke-width="0.8"/>
<line x1="77.7" y1="254.3" x2="77.7" y2="255.8" stroke="#1a1a1a" stroke-width="0.8"/>
<line x1="77.7" y1="151.2" x2="77.7" y2="152.7" stroke="#1a1a1a" stroke-width="0.8"/>
<line x1="111.7" y1="254.3" x2="111.7" y2="255.8" stroke="#1a1a1a" stroke-width="0.8"/>
<line x1="111.7" y1="151.2" x2="111.7" y2="152.7" stroke="#1a1a1a" stroke-width="0.8"/>
<line x1="138.3" y1="254.3" x2="138.3" y2="255.8" stroke="#1a1a1a" stroke-width="0.8"/>
<line x1="138.3" y1="151.2" x2="138.3" y2="152.7" stroke="#1a1a1a" stroke-width="0.8"/>
<line x1="171.5" y1="254.3" x2="171.5" y2="255.8" stroke="#1a1a1a" stroke-width="0.8"/>
<line x1="171.5" y1="151.2" x2="171.5" y2="152.7" stroke="#1a1a1a" stroke-width="0.8"/>
<line x1="197.9" y1="254.3" x2="197.9" y2="255.8" stroke="#1a1a1a" stroke-width="0.8"/>
<line x1="197.9" y1="151.2" x2="197.9" y2="152.7" stroke="#1a1a1a" stroke-width="0.8"/>
<text transform="translate(11.3,202) rotate(-90)" font-size="9.9" text-anchor="middle" fill="#000" stroke="#000" stroke-width="0.15" textLength="88.5" lengthAdjust="spacingAndGlyphs">% of CD56<tspan font-size="5.6" dy="-3.4">dim</tspan><tspan dy="3.4"> NK cells</tspan></text>
<line x1="43.55" y1="174.8" x2="43.55" y2="185.2" stroke="#1a1a1a" stroke-width="1"/>
<line x1="43.55" y1="211.1" x2="43.55" y2="224" stroke="#1a1a1a" stroke-width="1"/>
<rect x="40.3" y="185.2" width="6.5" height="25.900000000000006" fill="#d7d7d7" stroke="#1a1a1a" stroke-width="1"/>
<line x1="40.3" y1="198.6" x2="46.8" y2="198.6" stroke="#1a1a1a" stroke-width="1"/>
<circle cx="43.55" cy="168.6" r="2.4" fill="#000"/>
<circle cx="43.55" cy="172.8" r="2.4" fill="#000"/>
<circle cx="43.55" cy="226" r="2.4" fill="#000"/>
<circle cx="43.55" cy="231.2" r="2.4" fill="#000"/>
<line x1="50.8" y1="166.6" x2="50.8" y2="181.7" stroke="#1a1a1a" stroke-width="1"/>
<line x1="50.8" y1="206.5" x2="50.8" y2="223" stroke="#1a1a1a" stroke-width="1"/>
<rect x="47.5" y="181.7" width="6.600000000000001" height="24.80000000000001" fill="#7f7f7f" stroke="#1a1a1a" stroke-width="1"/>
<line x1="47.5" y1="197.6" x2="54.1" y2="197.6" stroke="#1a1a1a" stroke-width="1"/>
<circle cx="50.8" cy="154.6" r="2.4" fill="#000"/>
<circle cx="50.8" cy="166.6" r="2.4" fill="#000"/>
<circle cx="50.8" cy="224" r="2.4" fill="#000"/>
<circle cx="50.8" cy="226" r="2.4" fill="#000"/>
<line x1="58.45" y1="161.4" x2="58.45" y2="173.2" stroke="#1a1a1a" stroke-width="1"/>
<line x1="58.45" y1="190.3" x2="58.45" y2="194.5" stroke="#1a1a1a" stroke-width="1"/>
<rect x="55.3" y="173.2" width="6.300000000000004" height="17.100000000000023" fill="#ffffff" stroke="#1a1a1a" stroke-width="1"/>
<line x1="55.3" y1="182.7" x2="61.6" y2="182.7" stroke="#1a1a1a" stroke-width="1"/>
<circle cx="58.45" cy="161.4" r="2.4" fill="#000"/>
<circle cx="58.45" cy="194.5" r="2.4" fill="#000"/>
<line x1="69.7" y1="181" x2="69.7" y2="199.2" stroke="#1a1a1a" stroke-width="1"/>
<line x1="69.7" y1="219.4" x2="69.7" y2="224" stroke="#1a1a1a" stroke-width="1"/>
<rect x="66.5" y="199.2" width="6.400000000000006" height="20.200000000000017" fill="#d7d7d7" stroke="#1a1a1a" stroke-width="1"/>
<line x1="66.5" y1="211.6" x2="72.9" y2="211.6" stroke="#1a1a1a" stroke-width="1"/>
<circle cx="69.7" cy="181" r="2.4" fill="#000"/>
<circle cx="69.7" cy="183.5" r="2.4" fill="#000"/>
<circle cx="69.7" cy="186" r="2.4" fill="#000"/>
<circle cx="69.7" cy="224" r="2.4" fill="#000"/>
<circle cx="69.7" cy="226.5" r="2.4" fill="#000"/>
<circle cx="69.7" cy="229" r="2.4" fill="#000"/>
<circle cx="69.7" cy="231.5" r="2.4" fill="#000"/>
<circle cx="69.7" cy="233.3" r="2.4" fill="#000"/>
<line x1="77.3" y1="181" x2="77.3" y2="194.2" stroke="#1a1a1a" stroke-width="1"/>
<line x1="77.3" y1="212" x2="77.3" y2="217" stroke="#1a1a1a" stroke-width="1"/>
<rect x="74" y="194.2" width="6.599999999999994" height="17.80000000000001" fill="#7f7f7f" stroke="#1a1a1a" stroke-width="1"/>
<line x1="74" y1="204" x2="80.6" y2="204" stroke="#1a1a1a" stroke-width="1"/>
<circle cx="77.3" cy="164.3" r="2.4" fill="#000"/>
<circle cx="77.3" cy="181" r="2.4" fill="#000"/>
<circle cx="77.3" cy="183.5" r="2.4" fill="#000"/>
<circle cx="77.3" cy="217.2" r="2.4" fill="#000"/>
<circle cx="77.3" cy="224.8" r="2.4" fill="#000"/>
<circle cx="77.3" cy="229.8" r="2.4" fill="#000"/>
<line x1="85.05" y1="191.4" x2="85.05" y2="201.9" stroke="#1a1a1a" stroke-width="1"/>
<line x1="85.05" y1="216.5" x2="85.05" y2="227" stroke="#1a1a1a" stroke-width="1"/>
<rect x="81.6" y="201.9" width="6.900000000000006" height="14.599999999999994" fill="#ffffff" stroke="#1a1a1a" stroke-width="1"/>
<line x1="81.6" y1="214.3" x2="88.5" y2="214.3" stroke="#1a1a1a" stroke-width="1"/>
<circle cx="85.05" cy="191.4" r="2.4" fill="#000"/>
<circle cx="85.05" cy="227" r="2.4" fill="#000"/>
<line x1="103.3" y1="210.9" x2="103.3" y2="222.5" stroke="#1a1a1a" stroke-width="1"/>
<line x1="103.3" y1="228.6" x2="103.3" y2="234" stroke="#1a1a1a" stroke-width="1"/>
<rect x="100" y="222.5" width="6.599999999999994" height="6.099999999999994" fill="#d7d7d7" stroke="#1a1a1a" stroke-width="1"/>
<line x1="100" y1="225.4" x2="106.6" y2="225.4" stroke="#1a1a1a" stroke-width="1"/>
<circle cx="103.3" cy="210.9" r="2.4" fill="#000"/>
<circle cx="103.3" cy="217.6" r="2.4" fill="#000"/>
<circle cx="103.3" cy="234" r="2.4" fill="#000"/>
<circle cx="103.3" cy="236" r="2.4" fill="#000"/>
<line x1="111.25" y1="209.5" x2="111.25" y2="220.3" stroke="#1a1a1a" stroke-width="1"/>
<line x1="111.25" y1="228.6" x2="111.25" y2="234.5" stroke="#1a1a1a" stroke-width="1"/>
<rect x="108" y="220.3" width="6.5" height="8.299999999999983" fill="#7f7f7f" stroke="#1a1a1a" stroke-width="1"/>
<line x1="108" y1="224.5" x2="114.5" y2="224.5" stroke="#1a1a1a" stroke-width="1"/>
<circle cx="111.25" cy="209.5" r="2.4" fill="#000"/>
<circle cx="111.25" cy="211.8" r="2.4" fill="#000"/>
<circle cx="111.25" cy="213.6" r="2.4" fill="#000"/>
<circle cx="111.25" cy="234.5" r="2.4" fill="#000"/>
<circle cx="111.25" cy="236.6" r="2.4" fill="#000"/>
<line x1="118.7" y1="212.3" x2="118.7" y2="215.4" stroke="#1a1a1a" stroke-width="1"/>
<line x1="118.7" y1="221" x2="118.7" y2="225.2" stroke="#1a1a1a" stroke-width="1"/>
<rect x="115.9" y="215.4" width="5.599999999999994" height="5.599999999999994" fill="#ffffff" stroke="#1a1a1a" stroke-width="1"/>
<line x1="115.9" y1="218.2" x2="121.5" y2="218.2" stroke="#1a1a1a" stroke-width="1"/>
<circle cx="118.7" cy="212.3" r="2.4" fill="#000"/>
<circle cx="118.7" cy="225.2" r="2.4" fill="#000"/>
<line x1="130.1" y1="211.5" x2="130.1" y2="219.5" stroke="#1a1a1a" stroke-width="1"/>
<line x1="130.1" y1="228.7" x2="130.1" y2="232.6" stroke="#1a1a1a" stroke-width="1"/>
<rect x="126.7" y="219.5" width="6.799999999999997" height="9.199999999999989" fill="#d7d7d7" stroke="#1a1a1a" stroke-width="1"/>
<line x1="126.7" y1="224" x2="133.5" y2="224" stroke="#1a1a1a" stroke-width="1"/>
<circle cx="130.1" cy="211.5" r="2.4" fill="#000"/>
<circle cx="130.1" cy="214" r="2.4" fill="#000"/>
<circle cx="130.1" cy="216.5" r="2.4" fill="#000"/>
<circle cx="130.1" cy="232.6" r="2.4" fill="#000"/>
<circle cx="130.1" cy="235.1" r="2.4" fill="#000"/>
<circle cx="130.1" cy="237.4" r="2.4" fill="#000"/>
<line x1="137.7" y1="207.7" x2="137.7" y2="217.6" stroke="#1a1a1a" stroke-width="1"/>
<line x1="137.7" y1="226.4" x2="137.7" y2="231" stroke="#1a1a1a" stroke-width="1"/>
<rect x="134.6" y="217.6" width="6.200000000000017" height="8.800000000000011" fill="#7f7f7f" stroke="#1a1a1a" stroke-width="1"/>
<line x1="134.6" y1="222" x2="140.8" y2="222" stroke="#1a1a1a" stroke-width="1"/>
<circle cx="137.7" cy="207.7" r="2.4" fill="#000"/>
<circle cx="137.7" cy="209.9" r="2.4" fill="#000"/>
<circle cx="137.7" cy="211.4" r="2.4" fill="#000"/>
<circle cx="137.7" cy="231" r="2.4" fill="#000"/>
<circle cx="137.7" cy="233.2" r="2.4" fill="#000"/>
<circle cx="137.7" cy="234.4" r="2.4" fill="#000"/>
<line x1="145.1" y1="210.7" x2="145.1" y2="218.3" stroke="#1a1a1a" stroke-width="1"/>
<line x1="145.1" y1="226.8" x2="145.1" y2="231.4" stroke="#1a1a1a" stroke-width="1"/>
<rect x="142.2" y="218.3" width="5.800000000000011" height="8.5" fill="#ffffff" stroke="#1a1a1a" stroke-width="1"/>
<line x1="142.2" y1="222.5" x2="148" y2="222.5" stroke="#1a1a1a" stroke-width="1"/>
<circle cx="145.1" cy="210.7" r="2.4" fill="#000"/>
<circle cx="145.1" cy="231.4" r="2.4" fill="#000"/>
<line x1="163.55" y1="162.3" x2="163.55" y2="193.4" stroke="#1a1a1a" stroke-width="1"/>
<line x1="163.55" y1="219.3" x2="163.55" y2="231.7" stroke="#1a1a1a" stroke-width="1"/>
<rect x="160.5" y="193.4" width="6.099999999999994" height="25.900000000000006" fill="#d7d7d7" stroke="#1a1a1a" stroke-width="1"/>
<line x1="160.5" y1="207.3" x2="166.6" y2="207.3" stroke="#1a1a1a" stroke-width="1"/>
<circle cx="163.55" cy="162.3" r="2.4" fill="#000"/>
<circle cx="163.55" cy="169.2" r="2.4" fill="#000"/>
<circle cx="163.55" cy="172" r="2.4" fill="#000"/>
<circle cx="163.55" cy="231.7" r="2.4" fill="#000"/>
<circle cx="163.55" cy="234.8" r="2.4" fill="#000"/>
<line x1="171.39999999999998" y1="170" x2="171.39999999999998" y2="192" stroke="#1a1a1a" stroke-width="1"/>
<line x1="171.39999999999998" y1="230.4" x2="171.39999999999998" y2="240" stroke="#1a1a1a" stroke-width="1"/>
<rect x="168.2" y="192" width="6.400000000000006" height="38.400000000000006" fill="#7f7f7f" stroke="#1a1a1a" stroke-width="1"/>
<line x1="168.2" y1="212" x2="174.6" y2="212" stroke="#1a1a1a" stroke-width="1"/>
<circle cx="171.39999999999998" cy="170" r="2.4" fill="#000"/>
<circle cx="171.39999999999998" cy="173.8" r="2.4" fill="#000"/>
<circle cx="171.39999999999998" cy="177.4" r="2.4" fill="#000"/>
<circle cx="171.39999999999998" cy="240" r="2.4" fill="#000"/>
<line x1="178.95" y1="216.6" x2="178.95" y2="217.6" stroke="#1a1a1a" stroke-width="1"/>
<line x1="178.95" y1="238.1" x2="178.95" y2="241.4" stroke="#1a1a1a" stroke-width="1"/>
<rect x="175.9" y="217.6" width="6.099999999999994" height="20.5" fill="#ffffff" stroke="#1a1a1a" stroke-width="1"/>
<line x1="175.9" y1="230.3" x2="182" y2="230.3" stroke="#1a1a1a" stroke-width="1"/>
<circle cx="178.95" cy="216.6" r="2.4" fill="#000"/>
<circle cx="178.95" cy="241.4" r="2.4" fill="#000"/>
<line x1="190.2" y1="164" x2="190.2" y2="185.2" stroke="#1a1a1a" stroke-width="1"/>
<line x1="190.2" y1="207.9" x2="190.2" y2="220" stroke="#1a1a1a" stroke-width="1"/>
<rect x="187" y="185.2" width="6.400000000000006" height="22.700000000000017" fill="#d7d7d7" stroke="#1a1a1a" stroke-width="1"/>
<line x1="187" y1="199" x2="193.4" y2="199" stroke="#1a1a1a" stroke-width="1"/>
<circle cx="190.2" cy="164" r="2.4" fill="#000"/>
<circle cx="190.2" cy="166.8" r="2.4" fill="#000"/>
<circle cx="190.2" cy="169.6" r="2.4" fill="#000"/>
<circle cx="190.2" cy="172" r="2.4" fill="#000"/>
<circle cx="190.2" cy="223.2" r="2.4" fill="#000"/>
<circle cx="190.2" cy="226.3" r="2.4" fill="#000"/>
<circle cx="190.2" cy="229.4" r="2.4" fill="#000"/>
<line x1="197.75" y1="182" x2="197.75" y2="192" stroke="#1a1a1a" stroke-width="1"/>
<line x1="197.0" y1="182" x2="198.5" y2="182" stroke="#1a1a1a" stroke-width="1"/>
<line x1="197.75" y1="216.2" x2="197.75" y2="225.3" stroke="#1a1a1a" stroke-width="1"/>
<line x1="197.0" y1="225.3" x2="198.5" y2="225.3" stroke="#1a1a1a" stroke-width="1"/>
<rect x="194.7" y="192" width="6.100000000000023" height="24.19999999999999" fill="#7f7f7f" stroke="#1a1a1a" stroke-width="1"/>
<line x1="194.7" y1="203.8" x2="200.8" y2="203.8" stroke="#1a1a1a" stroke-width="1"/>
<circle cx="197.75" cy="164.7" r="2.4" fill="#000"/>
<circle cx="197.75" cy="170.7" r="2.4" fill="#000"/>
<circle cx="197.75" cy="182" r="2.4" fill="#000"/>
<circle cx="197.75" cy="184.8" r="2.4" fill="#000"/>
<circle cx="197.75" cy="232" r="2.4" fill="#000"/>
<circle cx="197.75" cy="234.6" r="2.4" fill="#000"/>
<circle cx="197.75" cy="237.2" r="2.4" fill="#000"/>
<line x1="205.2" y1="175.2" x2="205.2" y2="191.5" stroke="#1a1a1a" stroke-width="1"/>
<line x1="205.2" y1="203.8" x2="205.2" y2="218.3" stroke="#1a1a1a" stroke-width="1"/>
<rect x="202.1" y="191.5" width="6.200000000000017" height="12.300000000000011" fill="#ffffff" stroke="#1a1a1a" stroke-width="1"/>
<line x1="202.1" y1="197.6" x2="208.3" y2="197.6" stroke="#1a1a1a" stroke-width="1"/>
<circle cx="205.2" cy="175.2" r="2.4" fill="#000"/>
<circle cx="205.2" cy="218.3" r="2.4" fill="#000"/>
<line x1="42.3" y1="242.6" x2="64" y2="242.6" stroke="#666" stroke-width="1.4"/>
<line x1="52.00" y1="235.40" x2="52.00" y2="240.20" stroke="#222" stroke-width="1.4"/>
<line x1="49.92" y1="236.60" x2="54.08" y2="239.00" stroke="#222" stroke-width="1.4"/>
<line x1="54.08" y1="236.60" x2="49.92" y2="239.00" stroke="#222" stroke-width="1.4"/>
<line x1="100.4" y1="199.9" x2="121.1" y2="199.9" stroke="#666" stroke-width="1.4"/>
<line x1="110.80" y1="192.20" x2="110.80" y2="197.00" stroke="#222" stroke-width="1.4"/>
<line x1="108.72" y1="193.40" x2="112.88" y2="195.80" stroke="#222" stroke-width="1.4"/>
<line x1="112.88" y1="193.40" x2="108.72" y2="195.80" stroke="#222" stroke-width="1.4"/>
<line x1="161.7" y1="160" x2="182.4" y2="160" stroke="#666" stroke-width="1.4"/>
<line x1="172.00" y1="154.20" x2="172.00" y2="159.00" stroke="#222" stroke-width="1.4"/>
<line x1="169.92" y1="155.40" x2="174.08" y2="157.80" stroke="#222" stroke-width="1.4"/>
<line x1="174.08" y1="155.40" x2="169.92" y2="157.80" stroke="#222" stroke-width="1.4"/>
<text x="52.7" y="266.7" font-size="9.4" text-anchor="middle" font-weight="normal" font-style="normal" fill="#111" textLength="11.6" lengthAdjust="spacingAndGlyphs" stroke="#111" stroke-width="0.35" >1-9</text>
<text x="80.3" y="266.7" font-size="9.4" text-anchor="middle" font-weight="normal" font-style="normal" fill="#111" textLength="21.8" lengthAdjust="spacingAndGlyphs" stroke="#111" stroke-width="0.35" >10-49</text>
<text x="113.3" y="266.7" font-size="9.4" text-anchor="middle" font-weight="normal" font-style="normal" fill="#111" textLength="11.6" lengthAdjust="spacingAndGlyphs" stroke="#111" stroke-width="0.35" >1-9</text>
<text x="139" y="266.7" font-size="9.4" text-anchor="middle" font-weight="normal" font-style="normal" fill="#111" textLength="21.8" lengthAdjust="spacingAndGlyphs" stroke="#111" stroke-width="0.35" >10-49</text>
<text x="172.1" y="266.7" font-size="9.4" text-anchor="middle" font-weight="normal" font-style="normal" fill="#111" textLength="11.6" lengthAdjust="spacingAndGlyphs" stroke="#111" stroke-width="0.35" >1-9</text>
<text x="199.6" y="266.7" font-size="9.4" text-anchor="middle" font-weight="normal" font-style="normal" fill="#111" textLength="21.8" lengthAdjust="spacingAndGlyphs" stroke="#111" stroke-width="0.35" >10-49</text>
<text x="219.8" y="141.5" font-size="12.5" text-anchor="start" font-weight="bold" font-style="normal" fill="#000" stroke="#000" stroke-width="0.25" >D</text>
<line x1="252.7" y1="152.2" x2="255.2" y2="152.2" stroke="#1a1a1a" stroke-width="0.8"/>
<line x1="253.6" y1="157.48999999999998" x2="255.2" y2="157.48999999999998" stroke="#1a1a1a" stroke-width="0.6"/>
<line x1="253.6" y1="162.78" x2="255.2" y2="162.78" stroke="#1a1a1a" stroke-width="0.6"/>
<line x1="253.6" y1="168.07" x2="255.2" y2="168.07" stroke="#1a1a1a" stroke-width="0.6"/>
<line x1="253.6" y1="173.35999999999999" x2="255.2" y2="173.35999999999999" stroke="#1a1a1a" stroke-width="0.6"/>
<line x1="253.6" y1="178.64999999999998" x2="255.2" y2="178.64999999999998" stroke="#1a1a1a" stroke-width="0.6"/>
<line x1="253.6" y1="183.94" x2="255.2" y2="183.94" stroke="#1a1a1a" stroke-width="0.6"/>
<line x1="253.6" y1="189.23" x2="255.2" y2="189.23" stroke="#1a1a1a" stroke-width="0.6"/>
<line x1="253.6" y1="194.51999999999998" x2="255.2" y2="194.51999999999998" stroke="#1a1a1a" stroke-width="0.6"/>
<line x1="253.6" y1="199.81" x2="255.2" y2="199.81" stroke="#1a1a1a" stroke-width="0.6"/>
<line x1="252.7" y1="205.1" x2="255.2" y2="205.1" stroke="#1a1a1a" stroke-width="0.8"/>
<line x1="253.6" y1="210.39" x2="255.2" y2="210.39" stroke="#1a1a1a" stroke-width="0.6"/>
<line x1="253.6" y1="215.68" x2="255.2" y2="215.68" stroke="#1a1a1a" stroke-width="0.6"/>
<line x1="253.6" y1="220.97" x2="255.2" y2="220.97" stroke="#1a1a1a" stroke-width="0.6"/>
<line x1="253.6" y1="226.26" x2="255.2" y2="226.26" stroke="#1a1a1a" stroke-width="0.6"/>
<line x1="253.6" y1="231.55" x2="255.2" y2="231.55" stroke="#1a1a1a" stroke-width="0.6"/>
<line x1="253.6" y1="236.84" x2="255.2" y2="236.84" stroke="#1a1a1a" stroke-width="0.6"/>
<line x1="253.6" y1="242.13" x2="255.2" y2="242.13" stroke="#1a1a1a" stroke-width="0.6"/>
<line x1="253.6" y1="247.42" x2="255.2" y2="247.42" stroke="#1a1a1a" stroke-width="0.6"/>
<line x1="253.6" y1="252.71" x2="255.2" y2="252.71" stroke="#1a1a1a" stroke-width="0.6"/>
<line x1="252.7" y1="258.0" x2="255.2" y2="258.0" stroke="#1a1a1a" stroke-width="0.8"/>
<line x1="417.5" y1="152.2" x2="419.5" y2="152.2" stroke="#1a1a1a" stroke-width="0.7"/>
<line x1="417.5" y1="154.7" x2="419.5" y2="154.7" stroke="#1a1a1a" stroke-width="0.7"/>
<line x1="417.5" y1="157.2" x2="419.5" y2="157.2" stroke="#1a1a1a" stroke-width="0.7"/>
<line x1="417.5" y1="159.7" x2="419.5" y2="159.7" stroke="#1a1a1a" stroke-width="0.7"/>
<line x1="417.5" y1="162.2" x2="419.5" y2="162.2" stroke="#1a1a1a" stroke-width="0.7"/>
<line x1="417.5" y1="164.7" x2="419.5" y2="164.7" stroke="#1a1a1a" stroke-width="0.7"/>
<line x1="417.5" y1="167.2" x2="419.5" y2="167.2" stroke="#1a1a1a" stroke-width="0.7"/>
<line x1="417.5" y1="169.7" x2="419.5" y2="169.7" stroke="#1a1a1a" stroke-width="0.7"/>
<line x1="417.5" y1="172.2" x2="419.5" y2="172.2" stroke="#1a1a1a" stroke-width="0.7"/>
<line x1="417.5" y1="174.7" x2="419.5" y2="174.7" stroke="#1a1a1a" stroke-width="0.7"/>
<line x1="417.5" y1="177.2" x2="419.5" y2="177.2" stroke="#1a1a1a" stroke-width="0.7"/>
<line x1="417.5" y1="179.7" x2="419.5" y2="179.7" stroke="#1a1a1a" stroke-width="0.7"/>
<line x1="417.5" y1="182.2" x2="419.5" y2="182.2" stroke="#1a1a1a" stroke-width="0.7"/>
<line x1="417.5" y1="184.7" x2="419.5" y2="184.7" stroke="#1a1a1a" stroke-width="0.7"/>
<line x1="417.5" y1="187.2" x2="419.5" y2="187.2" stroke="#1a1a1a" stroke-width="0.7"/>
<line x1="417.5" y1="189.7" x2="419.5" y2="189.7" stroke="#1a1a1a" stroke-width="0.7"/>
<line x1="417.5" y1="192.2" x2="419.5" y2="192.2" stroke="#1a1a1a" stroke-width="0.7"/>
<line x1="417.5" y1="194.7" x2="419.5" y2="194.7" stroke="#1a1a1a" stroke-width="0.7"/>
<line x1="417.5" y1="197.2" x2="419.5" y2="197.2" stroke="#1a1a1a" stroke-width="0.7"/>
<line x1="417.5" y1="199.7" x2="419.5" y2="199.7" stroke="#1a1a1a" stroke-width="0.7"/>
<line x1="417.5" y1="202.2" x2="419.5" y2="202.2" stroke="#1a1a1a" stroke-width="0.7"/>
<line x1="417.5" y1="204.7" x2="419.5" y2="204.7" stroke="#1a1a1a" stroke-width="0.7"/>
<line x1="417.5" y1="207.2" x2="419.5" y2="207.2" stroke="#1a1a1a" stroke-width="0.7"/>
<line x1="417.5" y1="209.7" x2="419.5" y2="209.7" stroke="#1a1a1a" stroke-width="0.7"/>
<line x1="417.5" y1="212.2" x2="419.5" y2="212.2" stroke="#1a1a1a" stroke-width="0.7"/>
<line x1="417.5" y1="214.7" x2="419.5" y2="214.7" stroke="#1a1a1a" stroke-width="0.7"/>
<line x1="417.5" y1="217.2" x2="419.5" y2="217.2" stroke="#1a1a1a" stroke-width="0.7"/>
<line x1="417.5" y1="219.7" x2="419.5" y2="219.7" stroke="#1a1a1a" stroke-width="0.7"/>
<line x1="417.5" y1="222.2" x2="419.5" y2="222.2" stroke="#1a1a1a" stroke-width="0.7"/>
<line x1="417.5" y1="224.7" x2="419.5" y2="224.7" stroke="#1a1a1a" stroke-width="0.7"/>
<line x1="417.5" y1="227.2" x2="419.5" y2="227.2" stroke="#1a1a1a" stroke-width="0.7"/>
<line x1="417.5" y1="229.7" x2="419.5" y2="229.7" stroke="#1a1a1a" stroke-width="0.7"/>
<line x1="417.5" y1="232.2" x2="419.5" y2="232.2" stroke="#1a1a1a" stroke-width="0.7"/>
<line x1="417.5" y1="234.7" x2="419.5" y2="234.7" stroke="#1a1a1a" stroke-width="0.7"/>
<line x1="417.5" y1="237.2" x2="419.5" y2="237.2" stroke="#1a1a1a" stroke-width="0.7"/>
<line x1="417.5" y1="239.7" x2="419.5" y2="239.7" stroke="#1a1a1a" stroke-width="0.7"/>
<line x1="417.5" y1="242.2" x2="419.5" y2="242.2" stroke="#1a1a1a" stroke-width="0.7"/>
<line x1="417.5" y1="244.7" x2="419.5" y2="244.7" stroke="#1a1a1a" stroke-width="0.7"/>
<line x1="417.5" y1="247.2" x2="419.5" y2="247.2" stroke="#1a1a1a" stroke-width="0.7"/>
<line x1="417.5" y1="249.7" x2="419.5" y2="249.7" stroke="#1a1a1a" stroke-width="0.7"/>
<line x1="417.5" y1="252.2" x2="419.5" y2="252.2" stroke="#1a1a1a" stroke-width="0.7"/>
<line x1="417.5" y1="254.7" x2="419.5" y2="254.7" stroke="#1a1a1a" stroke-width="0.7"/>
<line x1="417.5" y1="257.2" x2="419.5" y2="257.2" stroke="#1a1a1a" stroke-width="0.7"/>
<text x="253.2" y="155.8" font-size="8.6" text-anchor="end" font-weight="normal" font-style="normal" fill="#000" textLength="16.2" lengthAdjust="spacingAndGlyphs" stroke="#000" stroke-width="0.2" >3000</text>
<text x="251.7" y="209.35" font-size="8.6" text-anchor="end" font-weight="normal" font-style="normal" fill="#000" textLength="11.6" lengthAdjust="spacingAndGlyphs" stroke="#000" stroke-width="0.2" >300</text>
<text x="251.6" y="262.1" font-size="8.6" text-anchor="end" font-weight="normal" font-style="normal" fill="#000" textLength="7.8" lengthAdjust="spacingAndGlyphs" stroke="#000" stroke-width="0.2" >30</text>
<line x1="255.2" y1="152.2" x2="417.5" y2="152.2" stroke="#1a1a1a" stroke-width="1.4"/>
<line x1="255.2" y1="152.2" x2="255.2" y2="258.0" stroke="#1a1a1a" stroke-width="1.2"/>
<line x1="417.5" y1="152.2" x2="417.5" y2="258.0" stroke="#1a1a1a" stroke-width="1.2"/>
<line x1="255.2" y1="258.0" x2="417.5" y2="258.0" stroke="#1a1a1a" stroke-width="1.5"/>
<line x1="338.8" y1="159.9" x2="338.8" y2="252.9" stroke="#1a1a1a" stroke-width="1.1"/>
<line x1="300.9" y1="152.2" x2="300.9" y2="153.7" stroke="#1a1a1a" stroke-width="0.8"/>
<line x1="300.9" y1="258.0" x2="300.9" y2="259.5" stroke="#1a1a1a" stroke-width="0.8"/>
<line x1="372.4" y1="152.2" x2="372.4" y2="153.7" stroke="#1a1a1a" stroke-width="0.8"/>
<line x1="372.4" y1="258.0" x2="372.4" y2="259.5" stroke="#1a1a1a" stroke-width="0.8"/>
<text transform="translate(229.7,199.45) rotate(-90)" font-size="8.9" text-anchor="middle" fill="#000" stroke="#000" stroke-width="0.15" textLength="95.5" lengthAdjust="spacingAndGlyphs">Anti-HCMV IgG (IU/ml)</text>
<line x1="281.4" y1="192" x2="281.4" y2="194.2" stroke="#1a1a1a" stroke-width="1"/>
<line x1="279.15" y1="192" x2="283.65" y2="192" stroke="#1a1a1a" stroke-width="1"/>
<line x1="281.4" y1="215.3" x2="281.4" y2="226.4" stroke="#1a1a1a" stroke-width="1"/>
<line x1="279.15" y1="226.4" x2="283.65" y2="226.4" stroke="#1a1a1a" stroke-width="1"/>
<rect x="272.3" y="194.2" width="18.19999999999999" height="21.100000000000023" fill="#d7d7d7" stroke="#1a1a1a" stroke-width="1"/>
<line x1="272.3" y1="202.2" x2="290.5" y2="202.2" stroke="#1a1a1a" stroke-width="1"/>
<circle cx="281.4" cy="186.3" r="2.3" fill="#000"/>
<circle cx="281.4" cy="189" r="2.3" fill="#000"/>
<circle cx="281.4" cy="234.9" r="2.3" fill="#000"/>
<line x1="301.8" y1="181.2" x2="301.8" y2="186.3" stroke="#1a1a1a" stroke-width="1"/>
<line x1="299.55" y1="181.2" x2="304.05" y2="181.2" stroke="#1a1a1a" stroke-width="1"/>
<line x1="301.8" y1="211" x2="301.8" y2="224.4" stroke="#1a1a1a" stroke-width="1"/>
<line x1="299.55" y1="224.4" x2="304.05" y2="224.4" stroke="#1a1a1a" stroke-width="1"/>
<rect x="292.8" y="186.3" width="18.0" height="24.69999999999999" fill="#7f7f7f" stroke="#1a1a1a" stroke-width="1"/>
<line x1="292.8" y1="200.6" x2="310.8" y2="200.6" stroke="#1a1a1a" stroke-width="1"/>
<circle cx="301.8" cy="162.6" r="2.3" fill="#000"/>
<circle cx="301.8" cy="166.7" r="2.3" fill="#000"/>
<circle cx="301.8" cy="227.8" r="2.3" fill="#000"/>
<circle cx="301.8" cy="233.4" r="2.3" fill="#000"/>
<line x1="321.4" y1="158.8" x2="321.4" y2="175.6" stroke="#1a1a1a" stroke-width="1"/>
<line x1="319.15" y1="158.8" x2="323.65" y2="158.8" stroke="#1a1a1a" stroke-width="1"/>
<line x1="321.4" y1="201.7" x2="321.4" y2="203.5" stroke="#1a1a1a" stroke-width="1"/>
<line x1="319.15" y1="203.5" x2="323.65" y2="203.5" stroke="#1a1a1a" stroke-width="1"/>
<rect x="312.9" y="175.6" width="17.0" height="26.099999999999994" fill="#ffffff" stroke="#1a1a1a" stroke-width="1"/>
<line x1="312.9" y1="192.2" x2="329.9" y2="192.2" stroke="#1a1a1a" stroke-width="1"/>
<line x1="351.45" y1="165" x2="351.45" y2="199.8" stroke="#1a1a1a" stroke-width="1"/>
<line x1="351.45" y1="229.5" x2="351.45" y2="240.8" stroke="#1a1a1a" stroke-width="1"/>
<rect x="342.5" y="199.8" width="17.899999999999977" height="29.69999999999999" fill="#d7d7d7" stroke="#1a1a1a" stroke-width="1"/>
<line x1="342.5" y1="213.1" x2="360.4" y2="213.1" stroke="#1a1a1a" stroke-width="1"/>
<circle cx="351.45" cy="165" r="2.3" fill="#000"/>
<circle cx="351.45" cy="176" r="2.3" fill="#000"/>
<circle cx="351.45" cy="178.6" r="2.3" fill="#000"/>
<circle cx="351.45" cy="181.2" r="2.3" fill="#000"/>
<circle cx="351.45" cy="183.8" r="2.3" fill="#000"/>
<circle cx="351.45" cy="186.4" r="2.3" fill="#000"/>
<circle cx="351.45" cy="240.8" r="2.3" fill="#000"/>
<circle cx="351.45" cy="243.8" r="2.3" fill="#000"/>
<circle cx="351.45" cy="246.8" r="2.3" fill="#000"/>
<circle cx="351.45" cy="249.8" r="2.3" fill="#000"/>
<circle cx="351.45" cy="252.9" r="2.3" fill="#000"/>
<line x1="372.15" y1="176.5" x2="372.15" y2="196.3" stroke="#1a1a1a" stroke-width="1"/>
<line x1="372.15" y1="225.9" x2="372.15" y2="234.8" stroke="#1a1a1a" stroke-width="1"/>
<rect x="363.2" y="196.3" width="17.900000000000034" height="29.599999999999994" fill="#7f7f7f" stroke="#1a1a1a" stroke-width="1"/>
<line x1="363.2" y1="210.7" x2="381.1" y2="210.7" stroke="#1a1a1a" stroke-width="1"/>
<circle cx="372.15" cy="176.4" r="2.3" fill="#000"/>
<circle cx="372.15" cy="186" r="2.3" fill="#000"/>
<circle cx="372.15" cy="189" r="2.3" fill="#000"/>
<circle cx="372.15" cy="234.8" r="2.3" fill="#000"/>
<circle cx="372.15" cy="245" r="2.3" fill="#000"/>
<line x1="392.45" y1="184.3" x2="392.45" y2="200.9" stroke="#1a1a1a" stroke-width="1"/>
<line x1="389.95" y1="184.3" x2="394.95" y2="184.3" stroke="#1a1a1a" stroke-width="1"/>
<line x1="392.45" y1="228.3" x2="392.45" y2="236.5" stroke="#1a1a1a" stroke-width="1"/>
<line x1="389.95" y1="236.5" x2="394.95" y2="236.5" stroke="#1a1a1a" stroke-width="1"/>
<rect x="383.5" y="200.9" width="17.899999999999977" height="27.400000000000006" fill="#ffffff" stroke="#1a1a1a" stroke-width="1"/>
<line x1="383.5" y1="216.2" x2="401.4" y2="216.2" stroke="#1a1a1a" stroke-width="1"/>
<circle cx="392.45" cy="184.3" r="2.3" fill="#000"/>
<circle cx="392.45" cy="246.9" r="2.3" fill="#000"/>
<line x1="281.6" y1="248.6" x2="323.9" y2="248.6" stroke="#555" stroke-width="1.4"/>
<line x1="301.40" y1="240.40" x2="301.40" y2="246.40" stroke="#222" stroke-width="1.3"/>
<line x1="298.80" y1="241.90" x2="304.00" y2="244.90" stroke="#222" stroke-width="1.3"/>
<line x1="304.00" y1="241.90" x2="298.80" y2="244.90" stroke="#222" stroke-width="1.3"/>
<text x="304" y="268" font-size="9.4" text-anchor="middle" font-weight="normal" font-style="normal" fill="#111" textLength="12" lengthAdjust="spacingAndGlyphs" stroke="#111" stroke-width="0.35" >1-9</text>
<text x="376.7" y="268" font-size="9.4" text-anchor="middle" font-weight="normal" font-style="normal" fill="#111" textLength="23" lengthAdjust="spacingAndGlyphs" stroke="#111" stroke-width="0.35" >10-49</text>
<text x="424.6" y="147.3" font-size="10.5" text-anchor="start" font-weight="bold" font-style="normal" fill="#000" textLength="35.8" lengthAdjust="spacingAndGlyphs" stroke="#000" stroke-width="0.25" >1-9 yrs</text>
<rect x="508.8" y="157.20000000000002" width="10" height="9.6" fill="#d7d7d7" stroke="#444" stroke-width="0.9"/>
<text x="424.8" y="163.8" font-size="8.8" text-anchor="start" font-weight="normal" font-style="italic" fill="#000" textLength="30.8" lengthAdjust="spacingAndGlyphs" stroke="#000" stroke-width="0.18" >NKG2C</text>
<text x="459.4" y="163.8" font-size="8.8" text-anchor="start" font-weight="normal" font-style="normal" fill="#000" stroke="#000" stroke-width="0.18" >+/+</text>
<text x="477.6" y="163.8" font-size="8.8" text-anchor="start" font-weight="normal" font-style="normal" fill="#000" textLength="25.6" lengthAdjust="spacingAndGlyphs" stroke="#000" stroke-width="0.18" >(n=26)</text>
<rect x="508.8" y="172.10000000000002" width="10" height="9.6" fill="#7f7f7f" stroke="#444" stroke-width="0.9"/>
<text x="424.8" y="178.70000000000002" font-size="8.8" text-anchor="start" font-weight="normal" font-style="italic" fill="#000" textLength="30.8" lengthAdjust="spacingAndGlyphs" stroke="#000" stroke-width="0.18" >NKG2C</text>
<text x="459.4" y="178.70000000000002" font-size="8.8" text-anchor="start" font-weight="normal" font-style="normal" fill="#000" stroke="#000" stroke-width="0.18" >+/-</text>
<text x="477.6" y="178.70000000000002" font-size="8.8" text-anchor="start" font-weight="normal" font-style="normal" fill="#000" textLength="25.6" lengthAdjust="spacingAndGlyphs" stroke="#000" stroke-width="0.18" >(n=27)</text>
<rect x="508.8" y="186.60000000000002" width="10" height="9.6" fill="#ffffff" stroke="#444" stroke-width="0.9"/>
<text x="424.8" y="193.20000000000002" font-size="8.8" text-anchor="start" font-weight="normal" font-style="italic" fill="#000" textLength="30.8" lengthAdjust="spacingAndGlyphs" stroke="#000" stroke-width="0.18" >NKG2C</text>
<text x="459.4" y="193.20000000000002" font-size="8.8" text-anchor="start" font-weight="normal" font-style="normal" fill="#000" stroke="#000" stroke-width="0.18" >-/-</text>
<text x="479" y="193.20000000000002" font-size="8.8" text-anchor="start" font-weight="normal" font-style="normal" fill="#000" textLength="19.4" lengthAdjust="spacingAndGlyphs" stroke="#000" stroke-width="0.18" >(n=6)</text>
<text x="426.5" y="211.2" font-size="10.5" text-anchor="start" font-weight="bold" font-style="normal" fill="#000" textLength="49.8" lengthAdjust="spacingAndGlyphs" stroke="#000" stroke-width="0.25" >10-49 yrs</text>
<rect x="508.1" y="219.60000000000002" width="10" height="9.6" fill="#d7d7d7" stroke="#444" stroke-width="0.9"/>
<text x="424.8" y="227.0" font-size="8.8" text-anchor="start" font-weight="normal" font-style="italic" fill="#000" textLength="30.8" lengthAdjust="spacingAndGlyphs" stroke="#000" stroke-width="0.18" >NKG2C</text>
<text x="459.4" y="227.0" font-size="8.8" text-anchor="start" font-weight="normal" font-style="normal" fill="#000" stroke="#000" stroke-width="0.18" >+/+</text>
<text x="477.8" y="227.0" font-size="8.8" text-anchor="start" font-weight="normal" font-style="normal" fill="#000" textLength="25.6" lengthAdjust="spacingAndGlyphs" stroke="#000" stroke-width="0.18" >(n=68)</text>
<rect x="508.1" y="233.70000000000002" width="10" height="9.6" fill="#7f7f7f" stroke="#444" stroke-width="0.9"/>
<text x="424.8" y="241.3" font-size="8.8" text-anchor="start" font-weight="normal" font-style="italic" fill="#000" textLength="30.8" lengthAdjust="spacingAndGlyphs" stroke="#000" stroke-width="0.18" >NKG2C</text>
<text x="459.4" y="241.3" font-size="8.8" text-anchor="start" font-weight="normal" font-style="normal" fill="#000" stroke="#000" stroke-width="0.18" >+/-</text>
<text x="477.8" y="241.3" font-size="8.8" text-anchor="start" font-weight="normal" font-style="normal" fill="#000" textLength="25.6" lengthAdjust="spacingAndGlyphs" stroke="#000" stroke-width="0.18" >(n=41)</text>
<rect x="508.1" y="249.60000000000002" width="10" height="9.6" fill="#ffffff" stroke="#444" stroke-width="0.9"/>
<text x="424.8" y="257.0" font-size="8.8" text-anchor="start" font-weight="normal" font-style="italic" fill="#000" textLength="30.8" lengthAdjust="spacingAndGlyphs" stroke="#000" stroke-width="0.18" >NKG2C</text>
<text x="459.4" y="257.0" font-size="8.8" text-anchor="start" font-weight="normal" font-style="normal" fill="#000" stroke="#000" stroke-width="0.18" >-/-</text>
<text x="478.7" y="257.0" font-size="8.8" text-anchor="start" font-weight="normal" font-style="normal" fill="#000" textLength="25.6" lengthAdjust="spacingAndGlyphs" stroke="#000" stroke-width="0.18" >(n=13)</text>
<text x="191.9" y="287.1" font-size="12.4" text-anchor="start" font-weight="normal" font-style="normal" fill="#111" textLength="92.3" lengthAdjust="spacingAndGlyphs" stroke="#111" stroke-width="0.3" >Age group (years)</text>
</svg>
</body></html>
